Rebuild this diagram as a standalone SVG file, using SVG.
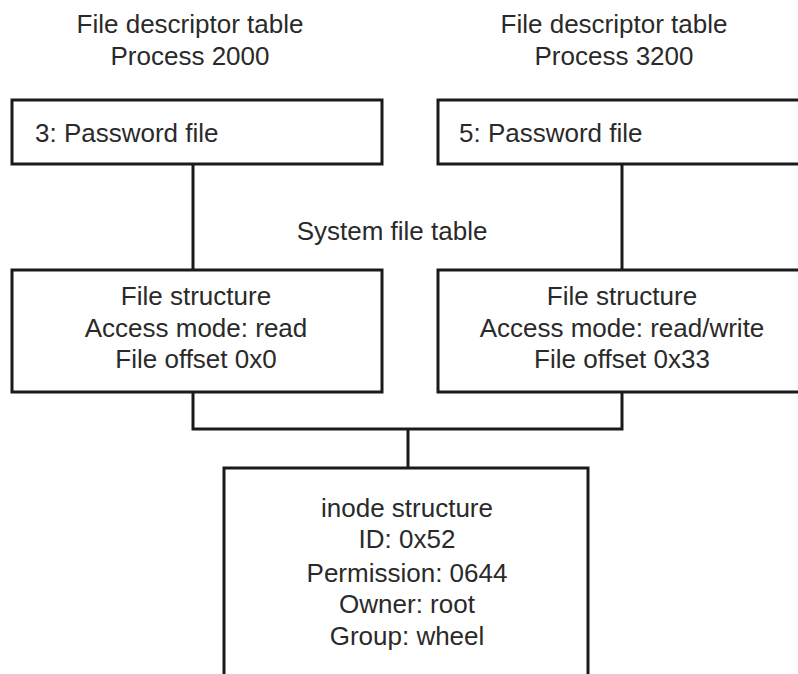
<svg xmlns="http://www.w3.org/2000/svg" width="798" height="674" viewBox="0 0 798 674">
<style>
.box{fill:#fff;stroke:#1a1a1a;stroke-width:3}
.ln{fill:none;stroke:#1a1a1a;stroke-width:3}
text{font-family:"Liberation Sans",Arial,sans-serif;font-size:26px;fill:#2a2a2a}
.c{text-anchor:middle}
</style>
<rect width="798" height="674" fill="#fff"/>
<g id="headers">
<text class="c" x="190" y="33">File descriptor table</text>
<text class="c" x="190" y="65">Process 2000</text>
<text class="c" x="614" y="33">File descriptor table</text>
<text class="c" x="614" y="65">Process 3200</text>
<text class="c" x="392" y="240">System file table</text>
</g>
<g id="connectors">
<path class="ln" d="M193 164V270"/>
<path class="ln" d="M622 164V270"/>
<path class="ln" d="M193 392V429H622V392"/>
<path class="ln" d="M408 429V468"/>
</g>
<g id="fd2000">
<rect class="box" x="12" y="100" width="370" height="64"/>
<text x="35" y="142">3: Password file</text>
</g>
<g id="fd3200">
<rect class="box" x="438" y="100" width="380" height="64"/>
<text x="459" y="142">5: Password file</text>
</g>
<g id="file1">
<rect class="box" x="12" y="270" width="370" height="122"/>
<text class="c" x="196" y="305">File structure</text>
<text class="c" x="196" y="337">Access mode: read</text>
<text class="c" x="196" y="368">File offset 0x0</text>
</g>
<g id="file2">
<rect class="box" x="438" y="270" width="380" height="122"/>
<text class="c" x="622" y="305">File structure</text>
<text class="c" x="622" y="337">Access mode: read/write</text>
<text class="c" x="622" y="368">File offset 0x33</text>
</g>
<g id="inode">
<rect class="box" x="224" y="468" width="364" height="230"/>
<text class="c" x="407" y="517">inode structure</text>
<text class="c" x="407" y="548">ID: 0x52</text>
<text class="c" x="407" y="582">Permission: 0644</text>
<text class="c" x="407" y="613">Owner: root</text>
<text class="c" x="407" y="645">Group: wheel</text>
</g>
</svg>
